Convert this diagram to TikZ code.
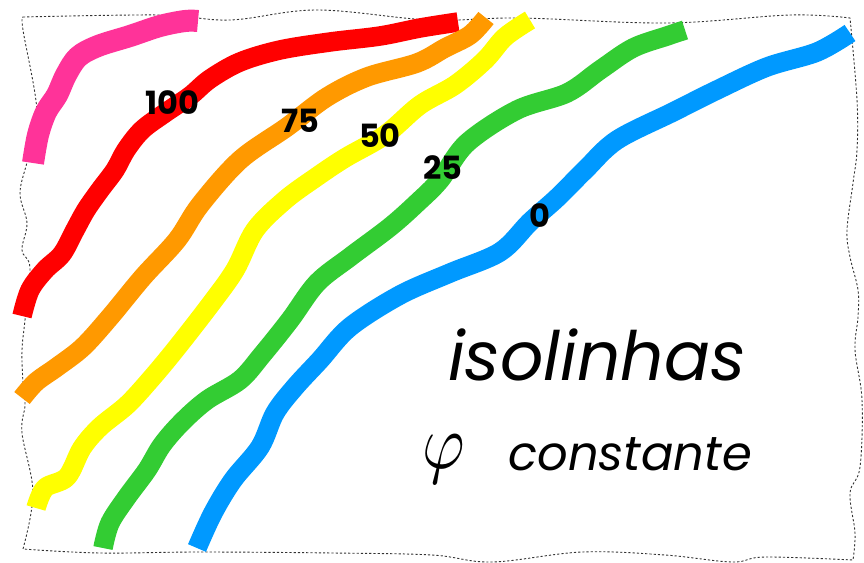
\documentclass[tikz,border=0pt]{standalone}
\usepackage{fontspec}
\usepackage{graphicx}
\newfontfamily\comicfont{Poppins}
\definecolor{cpink}{HTML}{FF3399}
\definecolor{cred}{HTML}{FF0000}
\definecolor{corange}{HTML}{FF9900}
\definecolor{cyellow}{HTML}{FFFF00}
\definecolor{cgreen}{HTML}{33CC33}
\definecolor{cblue}{HTML}{0099FF}
\tikzset{
  isoline/.style={line width=19.5pt, line cap=butt, line join=round},
  frameline/.style={draw=black!80, line width=0.9pt, dash pattern=on 2.2pt off 2pt},
  numlabel/.style={font=\comicfont\bfseries\fontsize{32}{36}\selectfont, inner sep=0pt, text=black},
}
\begin{document}
\begin{tikzpicture}[x=1pt,y=-1pt]
\useasboundingbox (0,0) rectangle (864,562);
% wavy dashed frame
\draw[frameline] plot[smooth, tension=0.6] coordinates {
 (23,17) (160,15) (230,20) (317,10) (430,20) (520,18) (667,23) (790,15) (850,18)}
 -- plot[smooth, tension=0.6] coordinates {
 (850,18) (857,100) (857,150) (853,183) (847,230) (850,257) (858,290) (858,317) (855,350) (862,400) (860,467) (850,493) (855,533) (853,560)}
 -- plot[smooth, tension=0.6] coordinates {
 (853,560) (765,557) (732,562) (665,555) (582,552) (492,562) (432,555) (333,553) (200,552) (100,553) (23,549)}
 -- plot[smooth, tension=0.6] coordinates {
 (23,549) (33,493) (22,433) (25,405) (23,383) (22,350) (25,320) (30,268) (22,250) (27,223) (20,193) (28,158) (37,112) (23,30) (23,17)};
% isolines
\draw[isoline, cpink, line width=22pt] plot[smooth, tension=0.55] coordinates {
 (33,163) (38,135) (46,112) (57,95) (66,75) (78,57) (98,46) (130,36) (160,26) (185,21) (198,21)};
\draw[isoline, cred] plot[smooth, tension=0.55] coordinates {
 (22,316) (30,290) (45,270) (62,254) (75,230) (86,210) (100,190) (115,170) (126,150) (142,130) (165,113) (190,96) (210,79) (240,62) (280,50) (330,42) (380,36) (420,28) (458,22)};
\draw[isoline, corange] plot[smooth, tension=0.55] coordinates {
 (22,398) (36,382) (57,367) (83,347) (110,317) (143,277) (177,240) (200,205) (240,160) (287,127) (327,97) (367,77) (417,63) (445,48) (470,35) (486,18)};
\draw[isoline, cyellow] plot[smooth, tension=0.55] coordinates {
 (36,508) (45,488) (67,477) (82,448) (100,427) (127,405) (150,380) (175,350) (210,305) (235,270) (255,230) (285,200) (315,178) (345,158) (385,135) (420,105) (455,85) (485,60) (505,37) (530,20)};
\draw[isoline, cgreen] plot[smooth, tension=0.55] coordinates {
 (103,548) (110,523) (127,497) (147,470) (162,445) (182,422) (207,400) (240,380) (262,355) (290,320) (317,283) (350,257) (390,227) (417,203) (440,180) (467,143) (517,110) (567,93) (600,70) (633,48) (667,36) (685,30)};
\draw[isoline, cblue] plot[smooth, tension=0.55] coordinates {
 (197,548) (213,513) (233,480) (260,447) (275,413) (295,387) (320,360) (350,327) (400,295) (450,273) (500,252) (530,222) (557,198) (585,170) (617,140) (673,112) (717,90) (767,67) (817,52) (850,33)};
% value labels
\node[numlabel] (l100) at (172,103) {100};
\node[numlabel] (l75) at (300,121) {75};
\node[numlabel] (l50) at (380,136) {50};
\node[numlabel] (l25) at (443,168) {25};
\node[numlabel] (l0) at (540,216) {0};
% captions
\node[anchor=base, inner sep=0pt, font=\comicfont\itshape\fontsize{68}{80}\selectfont] (title) at (597,380) {isolinhas};
\node[anchor=base, inner sep=0pt] (phi) at (444,468) {\scalebox{6.5}[7.8]{$\varphi$}};
\node[anchor=base, inner sep=0pt, font=\comicfont\itshape\fontsize{48}{60}\selectfont] (const) at (630,470) {constante};
\end{tikzpicture}
\end{document}
